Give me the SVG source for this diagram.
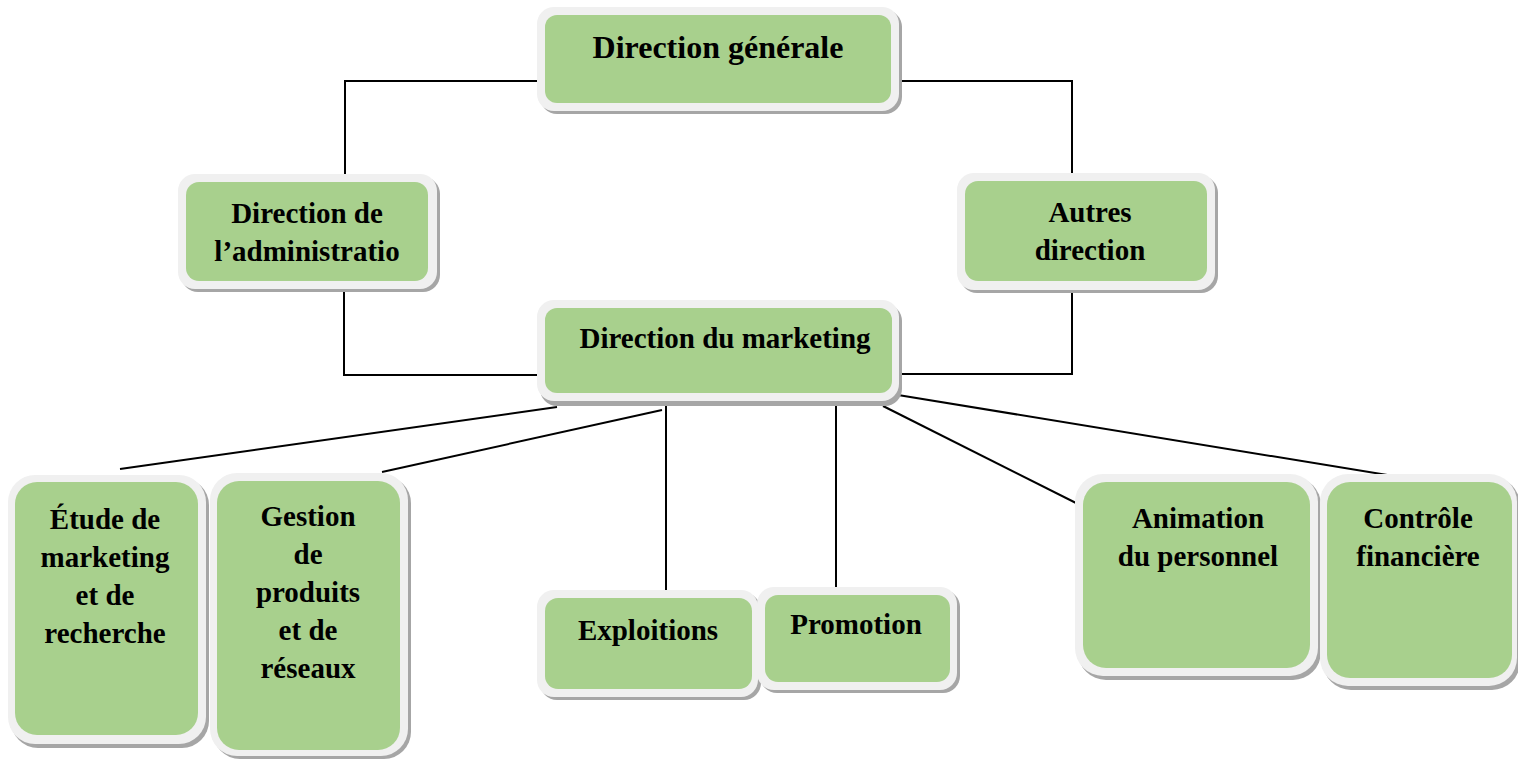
<svg xmlns="http://www.w3.org/2000/svg" width="1518" height="760" viewBox="0 0 1518 760">
<style>
.sh{fill:#a6a6a6}
.fr{fill:#f0f0f0}
.in{fill:#a8d08d}
.t{font-family:"Liberation Serif","Times New Roman",serif;font-weight:bold;font-size:29px;fill:#000;text-anchor:middle}
.big{font-size:32px}
.c{stroke:#000;stroke-width:2;fill:none}
</style>
<rect width="1518" height="760" fill="#fff"/>
<g id="connectors">
<polyline class="c" points="540,81 345,81 345,180"/>
<polyline class="c" points="896,81 1072,81 1072,178"/>
<polyline class="c" points="344,288 344,375 540,375"/>
<polyline class="c" points="1072,288 1072,374 895,374"/>
<line class="c" x1="557" y1="407" x2="120" y2="469"/>
<line class="c" x1="662" y1="410" x2="382" y2="472"/>
<line class="c" x1="666" y1="406" x2="666" y2="594"/>
<line class="c" x1="836" y1="406" x2="836" y2="590"/>
<line class="c" x1="883" y1="406" x2="1080" y2="505"/>
<line class="c" x1="898" y1="395" x2="1430" y2="482"/>
</g>
<g id="n-direction-generale">
<rect class="sh" x="540" y="10" width="362" height="104" rx="17"/>
<rect class="fr" x="537" y="7" width="362" height="104" rx="17"/>
<rect class="in" x="545" y="15" width="346" height="88" rx="12"/>
<text class="t big" x="718" y="58">Direction générale</text>
</g>
<g id="n-administration">
<rect class="sh" x="181" y="177" width="259" height="115" rx="17"/>
<rect class="fr" x="178" y="174" width="259" height="115" rx="17"/>
<rect class="in" x="186" y="182" width="242" height="99" rx="13"/>
<text class="t" x="307" y="223">Direction de</text>
<text class="t" x="307" y="261">l’administratio</text>
</g>
<g id="n-autres">
<rect class="sh" x="960" y="176" width="258" height="117" rx="17"/>
<rect class="fr" x="957" y="173" width="258" height="117" rx="17"/>
<rect class="in" x="965" y="181" width="242" height="100" rx="13"/>
<text class="t" x="1090" y="222">Autres</text>
<text class="t" x="1090" y="260">direction</text>
</g>
<g id="n-marketing">
<rect class="sh" x="540" y="304" width="362" height="102" rx="17"/>
<rect class="fr" x="537" y="300" width="362" height="101" rx="17"/>
<rect class="in" x="545" y="308" width="347" height="85" rx="12"/>
<text class="t" x="725" y="348">Direction du marketing</text>
</g>
<g id="n-etude">
<rect class="sh" x="11" y="478" width="198" height="270" rx="27"/>
<rect class="fr" x="8" y="475" width="198" height="269" rx="27"/>
<rect class="in" x="15" y="482" width="183" height="253" rx="22"/>
<text class="t" x="105" y="529">Étude de</text>
<text class="t" x="105" y="567">marketing</text>
<text class="t" x="105" y="605">et de</text>
<text class="t" x="105" y="643">recherche</text>
</g>
<g id="n-gestion">
<rect class="sh" x="213" y="476" width="198" height="283" rx="27"/>
<rect class="fr" x="210" y="473" width="198" height="283" rx="27"/>
<rect class="in" x="217" y="481" width="183" height="269" rx="22"/>
<text class="t" x="308" y="526">Gestion</text>
<text class="t" x="308" y="564">de</text>
<text class="t" x="308" y="602">produits</text>
<text class="t" x="308" y="640">et de</text>
<text class="t" x="308" y="678">réseaux</text>
</g>
<g id="n-exploitions">
<rect class="sh" x="540" y="593" width="221" height="107" rx="17"/>
<rect class="fr" x="537" y="590" width="221" height="107" rx="17"/>
<rect class="in" x="545" y="598" width="207" height="91" rx="13"/>
<text class="t" x="648" y="640">Exploitions</text>
</g>
<g id="n-promotion">
<rect class="sh" x="760" y="590" width="200" height="103" rx="17"/>
<rect class="fr" x="757" y="587" width="200" height="103" rx="17"/>
<rect class="in" x="765" y="595" width="185" height="87" rx="13"/>
<text class="t" x="856" y="634">Promotion</text>
</g>
<g id="n-animation">
<rect class="sh" x="1078" y="477" width="243" height="203" rx="28"/>
<rect class="fr" x="1075" y="474" width="243" height="202" rx="28"/>
<rect class="in" x="1083" y="482" width="227" height="186" rx="23"/>
<text class="t" x="1198" y="528">Animation</text>
<text class="t" x="1198" y="566">du personnel</text>
</g>
<g id="n-controle">
<rect class="sh" x="1323" y="477" width="197" height="213" rx="28"/>
<rect class="fr" x="1320" y="474" width="197" height="212" rx="28"/>
<rect class="in" x="1327" y="482" width="185" height="196" rx="23"/>
<text class="t" x="1418" y="528">Contrôle</text>
<text class="t" x="1418" y="566">financière</text>
</g>
</svg>
